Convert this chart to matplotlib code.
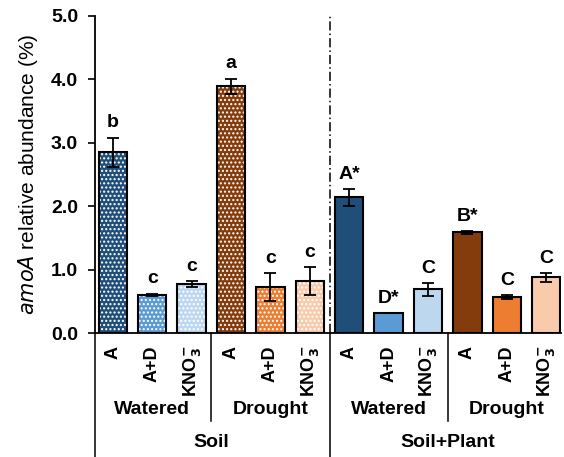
import matplotlib
matplotlib.use("Agg")
import matplotlib.pyplot as plt
import numpy as np

plt.rcParams['font.family'] = ['Liberation Sans', 'DejaVu Sans']
plt.rcParams['hatch.linewidth'] = 1.0

treatments = ["A", "A+D", r"KNO$_\mathbf{3}^\mathbf{-}$"] * 4
water_groups = ["Watered", "Drought", "Watered", "Drought"]
soil_groups = ["Soil", "Soil+Plant"]
values = [2.85, 0.60, 0.77, 3.89, 0.73, 0.82, 2.14, 0.31, 0.69, 1.59, 0.57, 0.88]
errors = [0.23, 0.02, 0.05, 0.12, 0.22, 0.22, 0.13, 0.00, 0.10, 0.02, 0.03, 0.07]
letters = ["b", "c", "c", "a", "c", "c", "A*", "D*", "C", "B*", "C", "C"]
colors = ["#1F4E79", "#5B9BD5", "#BDD7EE", "#843C0C", "#ED7D31", "#F8CBAD"] * 2
hatched = [True] * 6 + [False] * 6

fig = plt.figure(figsize=(5.64, 4.57), dpi=100)
ax = fig.add_axes([0.168, 0.271, 0.827, 0.694])

x = np.arange(len(values))
for xi, v, c, h in zip(x, values, colors, hatched):
    if h:
        ax.bar(xi, v, width=0.72, color=c, edgecolor='white', linewidth=0,
               hatch='....', zorder=2)
        ax.bar(xi, v, width=0.72, fill=False, edgecolor='black', linewidth=1.5, zorder=3)
    else:
        ax.bar(xi, v, width=0.72, color=c, edgecolor='black', linewidth=1.5, zorder=3)

ax.errorbar(x, values, yerr=errors, fmt='none', ecolor='black', elinewidth=1.3,
            capsize=4, capthick=1.3, zorder=4)

for xi, v, e, l in zip(x, values, errors, letters):
    ax.text(xi, v + e + 0.1, l, ha='center', va='bottom', fontsize=14,
            fontweight='bold')

ax.set_ylim(0, 5)
ax.set_xlim(-0.46, 11.38)
ax.set_yticks(np.arange(0, 5.01, 1.0))
ax.set_yticklabels([f"{t:.1f}" for t in np.arange(0, 5.01, 1.0)], fontsize=14,
                   fontweight='bold')
ax.tick_params(axis='y', direction='out', length=5, width=1.2, pad=7)
ax.set_xticks(x)
ax.set_xticklabels(treatments, rotation=90, fontsize=13, fontweight='bold', va='top')
ax.tick_params(axis='x', length=0, pad=9)
ax.spines['top'].set_visible(False)
ax.spines['right'].set_visible(False)
ax.spines['left'].set_linewidth(1.3)
ax.spines['bottom'].set_linewidth(1.3)

ax.set_ylabel(r"$\it{amoA}$ relative abundance (%)", fontsize=15, labelpad=8)

# divider inside plot
ax.plot([5.5, 5.5], [0, 5], color='black', linestyle=(0, (6, 2, 1, 2)), linewidth=1.1,
        zorder=1)

# lines below axis
ax.plot([-0.46, -0.46], [0, -1.95], color='black', linewidth=1.1, clip_on=False)
ax.plot([5.5, 5.5], [0, -1.95], color='black', linewidth=1.1, clip_on=False)
for sx in [2.5, 8.5]:
    ax.plot([sx, sx], [0, -1.38], color='black', linewidth=1.1, clip_on=False)

for i, g in enumerate(water_groups):
    ax.text(3 * i + 1, -1.20, g, ha='center', va='center', fontsize=14,
            fontweight='bold')
for i, g in enumerate(soil_groups):
    ax.text(6 * i + 2.5, -1.73, g, ha='center', va='center', fontsize=14,
            fontweight='bold')

fig.savefig("out.png", dpi=100)
